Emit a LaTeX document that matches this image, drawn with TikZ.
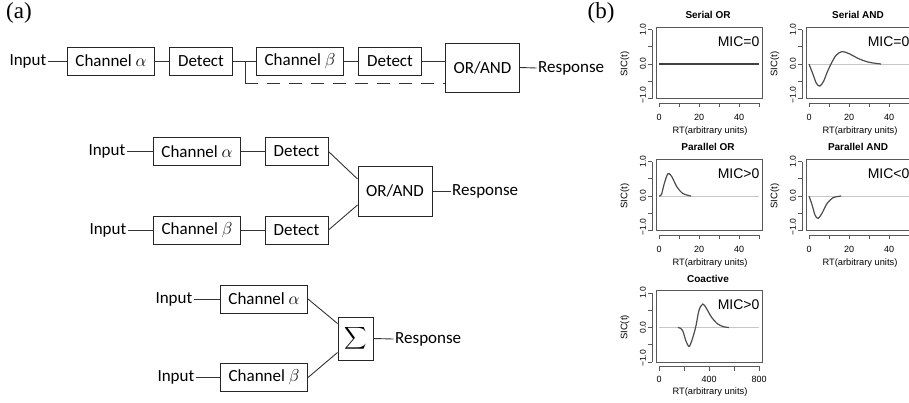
\documentclass[tikz,border=0pt]{standalone}
\usepackage{fontspec}
\setmainfont{Carlito}
\newfontfamily\plotfont{Liberation Sans}
\newfontfamily\panelfont{Liberation Serif}
\begin{document}
\begin{tikzpicture}[x=1pt,y=-1pt,
	blk/.style={draw=black!85,line width=1pt,minimum height=28pt,inner sep=0pt,font=\fontsize{17}{20}\selectfont},
	chan/.style={blk,minimum width=87pt},
	det/.style={blk,minimum width=63pt},
	gate/.style={blk,minimum width=74pt,minimum height=49pt},
	txt/.style={inner sep=1.5pt,font=\fontsize{17}{20}\selectfont},
	wire/.style={draw=black!80,line width=0.9pt},
	dashwire/.style={wire,dash pattern=on 13pt off 9pt},
	panel/.style={inner sep=0pt,font=\panelfont\fontsize{23}{25}\selectfont},
	pbox/.style={draw=black!65,line width=0.8pt},
	paxis/.style={draw=black!65,line width=0.8pt},
	ytick/.style={inner sep=0pt,rotate=90,font=\plotfont\fontsize{8.5}{9}\selectfont},
	xtick/.style={inner sep=0pt,font=\plotfont\fontsize{9}{10}\selectfont},
	rtlab/.style={inner sep=0pt,font=\plotfont\fontsize{9.3}{10}\selectfont},
	siclab/.style={inner sep=0pt,rotate=90,font=\plotfont\fontsize{9.5}{10}\selectfont},
	ptitle/.style={inner sep=0pt,font=\plotfont\bfseries\fontsize{10}{11}\selectfont},
	miclab/.style={inner sep=0pt,anchor=east,font=\plotfont\fontsize{14}{15}\selectfont},
	zeroline/.style={draw=black!22,line width=1pt},
	sor/.style={draw=black!75,line width=2pt},
	sic/.style={draw=black!70,line width=1.2pt,smooth}]
	\useasboundingbox (0,0) rectangle (909,402);

	% panel labels
	\node[panel] (labA) at (19,13) {(a)};
	\node[panel] (labB) at (601,13) {(b)};

	% serial chain
	\node[txt,anchor=east] (in1) at (48,61) {Input};
	\node[chan] (cha1) at (111,61) {Channel $\alpha$};
	\node[det] (det1) at (201,61) {Detect};
	\node[chan] (chb1) at (300,61) {Channel $\beta$};
	\node[det] (det2) at (390,61) {Detect};
	\node[gate] (gate1) at (482.5,67.5) {OR/AND};
	\node[txt,anchor=west] (resp1) at (536.5,68) {Response};
	\coordinate (split) at (245,61);
	\coordinate (bend) at (245,83);
	\draw[wire] (in1.east) -- (cha1.west);
	\draw[wire] (cha1.east) -- (det1.west);
	\draw[wire] (det1.east) -- (chb1.west);
	\draw[wire] (chb1.east) -- (det2.west);
	\draw[wire] (det2.east) -- (det2.east -| gate1.west);
	\draw[wire] (split) -- (bend);
	\draw[dashwire] (bend) -- (bend -| gate1.west);
	\draw[wire] (gate1.east) -- (resp1.west);

	% parallel channels
	\node[txt,anchor=east] (in2) at (127,151.5) {Input};
	\node[chan] (cha2) at (197,151.5) {Channel $\alpha$};
	\node[det] (det3) at (296.5,151.5) {Detect};
	\node[txt,anchor=east] (in3) at (128,230) {Input};
	\node[chan] (chb2) at (197,230) {Channel $\beta$};
	\node[det] (det4) at (296.5,230) {Detect};
	\node[gate,minimum height=50pt] (gate2) at (395,191) {OR/AND};
	\node[txt,anchor=west] (resp2) at (450.5,191) {Response};
	\draw[wire] (in2.east) -- (cha2.west);
	\draw[wire] (cha2.east) -- (det3.west);
	\draw[wire] (det3.east) -- ([yshift=12pt]gate2.west);
	\draw[wire] (in3.east) -- (chb2.west);
	\draw[wire] (chb2.east) -- (det4.west);
	\draw[wire] (det4.east) -- ([yshift=-14pt]gate2.west);
	\draw[wire] (gate2.east) -- (resp2.west);

	% coactive channels
	\node[txt,anchor=east] (in4) at (194,299) {Input};
	\node[chan] (cha3) at (264,299) {Channel $\alpha$};
	\node[txt,anchor=east] (in5) at (196,377.5) {Input};
	\node[chan] (chb3) at (264,377.5) {Channel $\beta$};
	\node[blk,minimum width=35pt,minimum height=43pt] (sum) at (355.5,338.5) {\scalebox{1.55}{$\displaystyle\sum$}};
	\node[txt,anchor=west] (resp3) at (393.5,339) {Response};
	\draw[wire] (in4.east) -- (cha3.west);
	\draw[wire] (cha3.east) -- ([yshift=15pt]sum.west);
	\draw[wire] (in5.east) -- (chb3.west);
	\draw[wire] (chb3.east) -- ([yshift=-14pt]sum.west);
	\draw[wire] (sum.east) -- (resp3.west);

	% Serial OR
	\begin{scope}[shift={(659pt,-64pt)},x=2pt,y=34.5pt]
	\draw[sor] (0,0) -- (50,0);
	\draw[pbox] (-1.5,-1.01) rectangle (51.5,1.07);
	\draw[paxis] (-3.5,-1) -- (-3.5,1) (-5.5,-1) -- (-3.5,-1) (-5.5,-0.5) -- (-3.5,-0.5) (-5.5,0) -- (-3.5,0) (-5.5,0.5) -- (-3.5,0.5) (-5.5,1) -- (-3.5,1);
	\draw[paxis] (0,-1.13) -- (50,-1.13) (0,-1.13) -- (0,-1.25) (10,-1.13) -- (10,-1.25) (20,-1.13) -- (20,-1.25) (30,-1.13) -- (30,-1.25) (40,-1.13) -- (40,-1.25) (50,-1.13) -- (50,-1.25);
	\node[ytick] (soY1) at (-8,1) {1.0};
	\node[ytick] (soY0) at (-8,0) {0.0};
	\node[ytick] (soYm) at (-8,-0.9) {−1.0};
	\node[xtick] (soX0) at (0,-1.54) {0};
	\node[xtick] (soX20) at (20,-1.54) {20};
	\node[xtick] (soX40) at (40,-1.54) {40};
	\node[siclab] (soSic) at (-17,0) {SIC(t)};
	\node[rtlab] (soRt) at (25.5,-1.95) {RT(arbitrary units)};
	\node[ptitle] (soTitle) at (24.5,1.42) {Serial OR};
	\node[miclab] (soMic) at (50.3,0.65) {MIC=0};
	\end{scope}

	% Serial AND
	\begin{scope}[shift={(809pt,-64pt)},x=2pt,y=34.5pt]
	\draw[zeroline] (0,0) -- (50,0);
	\draw[sic] plot coordinates {(0,0) (2,-0.3) (3.7,-0.56) (5.4,-0.64) (7.3,-0.5) (9,-0.25) (11,0) (13.5,0.25) (16.5,0.36) (20,0.3) (25,0.15) (30,0.05) (36,0)};
	\draw[pbox] (-1.5,-1.01) rectangle (51.5,1.07);
	\draw[paxis] (-3.5,-1) -- (-3.5,1) (-5.5,-1) -- (-3.5,-1) (-5.5,-0.5) -- (-3.5,-0.5) (-5.5,0) -- (-3.5,0) (-5.5,0.5) -- (-3.5,0.5) (-5.5,1) -- (-3.5,1);
	\draw[paxis] (0,-1.13) -- (50,-1.13) (0,-1.13) -- (0,-1.25) (10,-1.13) -- (10,-1.25) (20,-1.13) -- (20,-1.25) (30,-1.13) -- (30,-1.25) (40,-1.13) -- (40,-1.25) (50,-1.13) -- (50,-1.25);
	\node[ytick] (saY1) at (-8,1) {1.0};
	\node[ytick] (saY0) at (-8,0) {0.0};
	\node[ytick] (saYm) at (-8,-0.9) {−1.0};
	\node[xtick] (saX0) at (0,-1.54) {0};
	\node[xtick] (saX20) at (20,-1.54) {20};
	\node[xtick] (saX40) at (40,-1.54) {40};
	\node[siclab] (saSic) at (-17,0) {SIC(t)};
	\node[rtlab] (saRt) at (25.5,-1.95) {RT(arbitrary units)};
	\node[ptitle] (saTitle) at (24.5,1.42) {Serial AND};
	\node[miclab] (saMic) at (50.3,0.65) {MIC=0};
	\end{scope}

	% Parallel OR
	\begin{scope}[shift={(659pt,-196pt)},x=2pt,y=34.5pt]
	\draw[zeroline] (0,0) -- (50,0);
	\draw[sic] plot coordinates {(0,0) (1.2,0.04) (2.5,0.33) (4,0.6) (5,0.65) (6.5,0.55) (9,0.26) (12,0.07) (16,0)};
	\draw[pbox] (-1.5,-1.01) rectangle (51.5,1.07);
	\draw[paxis] (-3.5,-1) -- (-3.5,1) (-5.5,-1) -- (-3.5,-1) (-5.5,-0.5) -- (-3.5,-0.5) (-5.5,0) -- (-3.5,0) (-5.5,0.5) -- (-3.5,0.5) (-5.5,1) -- (-3.5,1);
	\draw[paxis] (0,-1.13) -- (50,-1.13) (0,-1.13) -- (0,-1.25) (10,-1.13) -- (10,-1.25) (20,-1.13) -- (20,-1.25) (30,-1.13) -- (30,-1.25) (40,-1.13) -- (40,-1.25) (50,-1.13) -- (50,-1.25);
	\node[ytick] (poY1) at (-8,1) {1.0};
	\node[ytick] (poY0) at (-8,0) {0.0};
	\node[ytick] (poYm) at (-8,-0.9) {−1.0};
	\node[xtick] (poX0) at (0,-1.54) {0};
	\node[xtick] (poX20) at (20,-1.54) {20};
	\node[xtick] (poX40) at (40,-1.54) {40};
	\node[siclab] (poSic) at (-17,0) {SIC(t)};
	\node[rtlab] (poRt) at (25.5,-1.95) {RT(arbitrary units)};
	\node[ptitle] (poTitle) at (24.5,1.42) {Parallel OR};
	\node[miclab] (poMic) at (50.3,0.65) {MIC>0};
	\end{scope}

	% Parallel AND
	\begin{scope}[shift={(809pt,-196pt)},x=2pt,y=34.5pt]
	\draw[zeroline] (0,0) -- (50,0);
	\draw[sic] plot coordinates {(0,0) (1.5,-0.25) (3,-0.55) (4.5,-0.65) (6.5,-0.5) (9,-0.22) (12,-0.05) (16,0)};
	\draw[pbox] (-1.5,-1.01) rectangle (51.5,1.07);
	\draw[paxis] (-3.5,-1) -- (-3.5,1) (-5.5,-1) -- (-3.5,-1) (-5.5,-0.5) -- (-3.5,-0.5) (-5.5,0) -- (-3.5,0) (-5.5,0.5) -- (-3.5,0.5) (-5.5,1) -- (-3.5,1);
	\draw[paxis] (0,-1.13) -- (50,-1.13) (0,-1.13) -- (0,-1.25) (10,-1.13) -- (10,-1.25) (20,-1.13) -- (20,-1.25) (30,-1.13) -- (30,-1.25) (40,-1.13) -- (40,-1.25) (50,-1.13) -- (50,-1.25);
	\node[ytick] (paY1) at (-8,1) {1.0};
	\node[ytick] (paY0) at (-8,0) {0.0};
	\node[ytick] (paYm) at (-8,-0.9) {−1.0};
	\node[xtick] (paX0) at (0,-1.54) {0};
	\node[xtick] (paX20) at (20,-1.54) {20};
	\node[xtick] (paX40) at (40,-1.54) {40};
	\node[siclab] (paSic) at (-17,0) {SIC(t)};
	\node[rtlab] (paRt) at (25.5,-1.95) {RT(arbitrary units)};
	\node[ptitle] (paTitle) at (24.5,1.42) {Parallel AND};
	\node[miclab] (paMic) at (50.3,0.65) {MIC<0};
	\end{scope}

	% Coactive (RT 0-800 drawn as 0-50)
	\begin{scope}[shift={(659pt,-327.5pt)},x=2pt,y=34.5pt]
	\draw[zeroline] (0,0) -- (50,0);
	\draw[sic] plot coordinates {(9.4,0) (10.6,-0.02) (11.9,-0.1) (13.4,-0.38) (15,-0.55) (16.4,-0.38) (18.3,0) (20,0.5) (21.9,0.68) (23.75,0.55) (26.25,0.3) (29.4,0.1) (32.5,0.02) (35,0)};
	\draw[pbox] (-1.5,-1.01) rectangle (51.5,1.07);
	\draw[paxis] (-3.5,-1) -- (-3.5,1) (-5.5,-1) -- (-3.5,-1) (-5.5,-0.5) -- (-3.5,-0.5) (-5.5,0) -- (-3.5,0) (-5.5,0.5) -- (-3.5,0.5) (-5.5,1) -- (-3.5,1);
	\draw[paxis] (0,-1.13) -- (50,-1.13) (0,-1.13) -- (0,-1.25) (12.5,-1.13) -- (12.5,-1.25) (25,-1.13) -- (25,-1.25) (37.5,-1.13) -- (37.5,-1.25) (50,-1.13) -- (50,-1.25);
	\node[ytick] (coY1) at (-8,1) {1.0};
	\node[ytick] (coY0) at (-8,0) {0.0};
	\node[ytick] (coYm) at (-8,-0.9) {−1.0};
	\node[xtick] (coX0) at (0,-1.5) {0};
	\node[xtick] (coX400) at (25,-1.5) {400};
	\node[xtick] (coX800) at (50,-1.5) {800};
	\node[siclab] (coSic) at (-17,0) {SIC(t)};
	\node[rtlab] (coRt) at (25.5,-1.86) {RT(arbitrary units)};
	\node[ptitle] (coTitle) at (24.5,1.42) {Coactive};
	\node[miclab] (coMic) at (50.3,0.65) {MIC>0};
	\end{scope}

\end{tikzpicture}
\end{document}
